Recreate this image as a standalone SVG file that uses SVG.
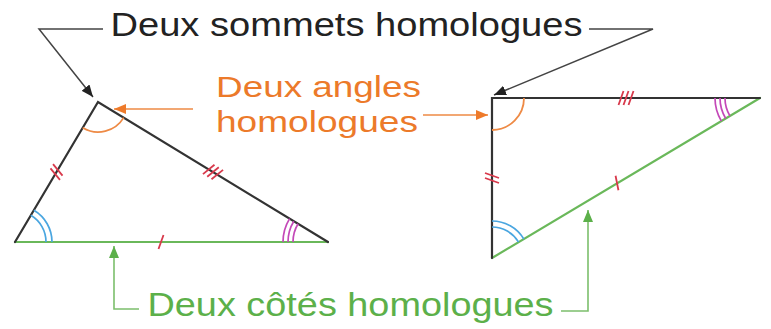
<svg xmlns="http://www.w3.org/2000/svg" width="771" height="329" viewBox="0 0 771 329">
<style>
text{font-family:"Liberation Sans",Arial,sans-serif}
.blk{fill:#222}
.org{fill:#ec7a2a}
.grn{fill:#5cb04a}
.side{stroke:#333;stroke-width:2.2;fill:none;stroke-linecap:round}
.gside{stroke:#6ab85a;stroke-width:2.2;fill:none;stroke-linecap:round}
.tick{stroke:#d83a4c;stroke-width:1.8;fill:none}
.oarc{stroke:#ee8a45;stroke-width:1.8;fill:none}
.barc{stroke:#4aa6e0;stroke-width:1.7;fill:none}
.parc{stroke:#c448b8;stroke-width:1.7;fill:none}
.cb{stroke:#444;stroke-width:1.5;fill:none}
.co{stroke:#ee8a45;stroke-width:1.6;fill:none}
.cg{stroke:#7cbf6c;stroke-width:1.6;fill:none}
</style>
<defs>
<marker id="ab" viewBox="0 0 12 10" refX="12" refY="5" markerWidth="12" markerHeight="10" markerUnits="userSpaceOnUse" orient="auto"><path d="M0,0 L12,5 L0,10 Z" fill="#222"/></marker>
<marker id="ao" viewBox="0 0 12 10" refX="12" refY="5" markerWidth="12" markerHeight="10" markerUnits="userSpaceOnUse" orient="auto"><path d="M0,0 L12,5 L0,10 Z" fill="#ee7a2a"/></marker>
<marker id="ag" viewBox="0 0 12 10" refX="12" refY="5" markerWidth="12" markerHeight="10" markerUnits="userSpaceOnUse" orient="auto"><path d="M0,0 L12,5 L0,10 Z" fill="#5cb04a"/></marker>
<g id="t1"><path d="M-2.5,7 L2.5,-7"/></g>
<g id="t2"><path d="M-5,7 L0,-7 M0,7 L5,-7"/></g>
<g id="t3"><path d="M-7.5,7 L-2.5,-7 M-2.5,7 L2.5,-7 M2.5,7 L7.5,-7"/></g>
</defs>

<g id="triangle-left">
<path class="gside" d="M15,242 L328,242"/>
<path class="side" d="M15,242 L98,102 L328,242"/>
<use href="#t2" class="tick" transform="translate(56.5,172) rotate(-59.3)"/>
<use href="#t3" class="tick" transform="translate(213,172) rotate(31.3)"/>
<use href="#t1" class="tick" transform="translate(161,242)"/>
<path class="oarc" d="M82.7,127.8 A30,30 0 0 0 123.7,117.6"/>
<path class="barc" d="M46,242 A31,31 0 0 0 30.8,215.3 M52,242 A37,37 0 0 0 33.9,210.2"/>
<path class="parc" d="M293,242 A35,35 0 0 1 298.1,223.8 M288,242 A40,40 0 0 1 293.8,221.2 M283,242 A45,45 0 0 1 289.6,218.6"/>
</g>

<g id="triangle-right">
<path class="gside" d="M760,98 L492,258"/>
<path class="side" d="M492,258 L492,98 L760,98"/>
<use href="#t3" class="tick" transform="translate(626,98)"/>
<use href="#t2" class="tick" transform="translate(492,178) rotate(90)"/>
<use href="#t1" class="tick" transform="translate(617,183) rotate(-30.8)"/>
<path class="oarc" d="M524,98 A32,32 0 0 1 492,130"/>
<path class="barc" d="M492,227 A31,31 0 0 1 518.6,242.1 M492,221 A37,37 0 0 1 523.8,239"/>
<path class="parc" d="M725,98 A35,35 0 0 0 729.9,115.9 M720,98 A40,40 0 0 0 725.7,118.5 M715,98 A45,45 0 0 0 721.4,121.1"/>
</g>

<g id="label-sommets">
<text class="blk" x="110.5" y="36" font-size="34" textLength="472" lengthAdjust="spacingAndGlyphs">Deux sommets homologues</text>
</g>
<g id="label-angles">
<text class="org" x="216" y="97" font-size="30" textLength="205" lengthAdjust="spacingAndGlyphs">Deux angles</text>
<text class="org" x="216" y="132" font-size="30" textLength="202" lengthAdjust="spacingAndGlyphs">homologues</text>
</g>
<g id="label-cotes">
<text class="grn" x="147.5" y="316" font-size="33" textLength="406" lengthAdjust="spacingAndGlyphs">Deux côtés homologues</text>
</g>

<g id="connectors">
<path class="cb" d="M103,29 L39,29 L93,97" marker-end="url(#ab)"/>
<path class="cb" d="M589,29 L653,29 L494,95" marker-end="url(#ab)"/>
<path class="co" d="M193,109 L114,109" marker-end="url(#ao)"/>
<path class="co" d="M423,115 L488,115" marker-end="url(#ao)"/>
<path class="cg" d="M139,309 L114,309 L114,246" marker-end="url(#ag)"/>
<path class="cg" d="M561,311 L588,311 L588,210" marker-end="url(#ag)"/>
</g>
</svg>
